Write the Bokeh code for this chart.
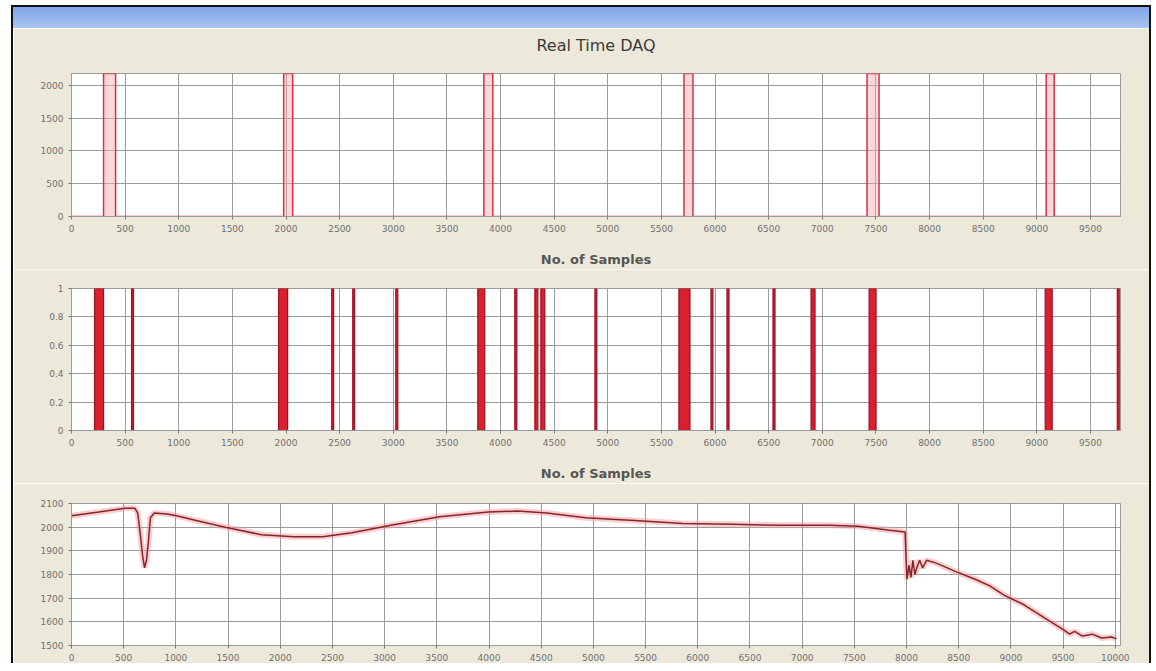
from bokeh.plotting import figure
from bokeh.layouts import column
from bokeh.models import Div, FixedTicker, Range1d, Title
from bokeh.embed import file_html
from bokeh.resources import INLINE

# ---------------- data ----------------
title_text = "Real Time DAQ"
x_axis_label = "No. of Samples"

x_ticks = [0, 500, 1000, 1500, 2000, 2500, 3000, 3500, 4000, 4500, 5000,
           5500, 6000, 6500, 7000, 7500, 8000, 8500, 9000, 9500, 10000]

# panel 1 : pulse channel (sample where pulse starts / ends, level)
pulse_start = [299, 1978, 3844, 5710, 7417, 9087]
pulse_end = [411, 2062, 3928, 5794, 7529, 9162]
pulse_level = [2180, 2180, 2180, 2180, 2180, 2180]
p1_y_ticks = [0, 500, 1000, 1500, 2000]

# panel 2 : digital channel (on intervals)
dig_start = [215, 560, 1931, 2426, 2622, 3023, 3788, 4133, 4320, 4376,
             4880, 5663, 5962, 6111, 6540, 6895, 7436, 9078, 9750]
dig_end = [299, 578, 2015, 2444, 2640, 3042, 3853, 4152, 4348, 4413,
           4898, 5766, 5980, 6130, 6559, 6932, 7501, 9143, 9768]
p2_y_ticks = [0, 0.2, 0.4, 0.6, 0.8, 1.0]

# panel 3 : analog channel
a_x = [0, 261, 513, 606, 634, 662, 681, 700, 718, 737, 756, 793, 914, 1008,
       1194, 1474, 1819, 2127, 2407, 2687, 3060, 3527, 3993, 4273, 4553,
       4926, 5393, 5859, 6326, 6792, 7259, 7539, 7819, 7986, 7996, 8005,
       8024, 8042, 8061, 8080, 8098, 8126, 8154, 8192, 8285, 8472, 8658,
       8798, 8938, 9125, 9311, 9498, 9563, 9610, 9685, 9778, 9871, 9964,
       10011]
a_y = [2048, 2064, 2080, 2080, 2060, 1960, 1880, 1828, 1860, 1940, 2040,
       2060, 2056, 2048, 2028, 2000, 1968, 1960, 1960, 1976, 2008, 2044,
       2064, 2068, 2060, 2040, 2028, 2016, 2012, 2008, 2008, 2004, 1988,
       1980, 1860, 1780, 1840, 1788, 1860, 1800, 1828, 1860, 1828, 1860,
       1848, 1812, 1780, 1752, 1712, 1672, 1620, 1568, 1548, 1560, 1540,
       1548, 1532, 1536, 1528]
p3_y_ticks = [1500, 1600, 1700, 1800, 1900, 2000, 2100]

# ---------------- style ----------------
BG = "#ede9da"
GRID = "#8a8a8a"
FONT = "DejaVu Sans"
W = 1136


def make_fig(height, x_end, y_rng, top, bottom, right, y_ticks, title=None):
    p = figure(width=W, height=height, x_range=Range1d(0, x_end),
               y_range=y_rng, output_backend="svg", toolbar_location=None,
               title=title, min_border_left=58, min_border_right=right,
               min_border_top=top, min_border_bottom=bottom)
    p.background_fill_color = "white"
    p.border_fill_color = BG
    p.outline_line_color = "#9a9a9a"
    p.xaxis.ticker = FixedTicker(ticks=x_ticks)
    p.yaxis.ticker = FixedTicker(ticks=y_ticks)
    p.xgrid.ticker = FixedTicker(ticks=x_ticks)
    p.grid.grid_line_color = GRID
    p.grid.grid_line_alpha = 0.85
    for ax in (p.xaxis, p.yaxis):
        ax.axis_line_color = "#9a9a9a"
        ax.major_tick_line_color = "#777777"
        ax.major_tick_in = 0
        ax.major_tick_out = 3
        ax.minor_tick_line_color = None
        ax.major_label_text_font = FONT
        ax.major_label_text_font_size = "9px"
        ax.major_label_text_color = "#707070"
    return p


# panel 1
p1 = make_fig(241, 9780, Range1d(0, 2180), 45, 49, 29, p1_y_ticks, title_text)
p1.add_layout(Title(text=" ", text_font_size="1px", standoff=16), "above")
p1.title.align = "center"
p1.title.offset = -5
p1.title.text_font = FONT
p1.title.text_font_size = "16px"
p1.title.text_font_style = "normal"
p1.title.text_color = "#3a3a3a"
p1.title.standoff = 0
px = [0]
py = [0]
for s, e, lv in zip(pulse_start, pulse_end, pulse_level):
    px += [s, s, e, e]
    py += [0, lv, lv, 0]
px.append(9780)
py.append(0)
p1.varea(x=px, y1=[0] * len(py), y2=py, fill_color="#f4aab2", fill_alpha=0.45)
p1.line(px, py, line_color="#d83040", line_width=1.5)
p1.xaxis.axis_label = x_axis_label

# panel 2
p2 = make_fig(214, 9780, Range1d(0, 1), 19, 50, 29, p2_y_ticks)
p2.quad(left=dig_start, right=dig_end, bottom=0, top=1,
        fill_color="#d8202e", line_color="#9c1020", line_width=1.2)
p2.xaxis.axis_label = x_axis_label

# panel 3
p3 = make_fig(180, 10050, Range1d(1500, 2100), 20, 16, 3, p3_y_ticks)
p3.line(a_x, a_y, line_color="#f0a0a8", line_width=6, line_alpha=0.5)
p3.line(a_x, a_y, line_color="#8a2424", line_width=1.5)

for p in (p1, p2):
    p.xaxis.axis_label_text_font = FONT
    p.xaxis.axis_label_text_font_size = "13px"
    p.xaxis.axis_label_text_font_style = "bold"
    p.xaxis.axis_label_text_color = "#555555"
    p.xaxis.axis_label_standoff = 17

header = Div(text="", width=W, height=23, margin=0,
             styles={"background": "linear-gradient(#111 0px, #111 2px, #7fa4e8 2px, #a9c4f0 100%)"})

layout = column(header, p1, p2, p3, spacing=0, margin=(5, 0, 0, 13),
                styles={"box-shadow": "-2px 0 0 0 #111, 2px 0 0 0 #111"})

with open("out.html", "w") as f:
    f.write(file_html(layout, INLINE))
